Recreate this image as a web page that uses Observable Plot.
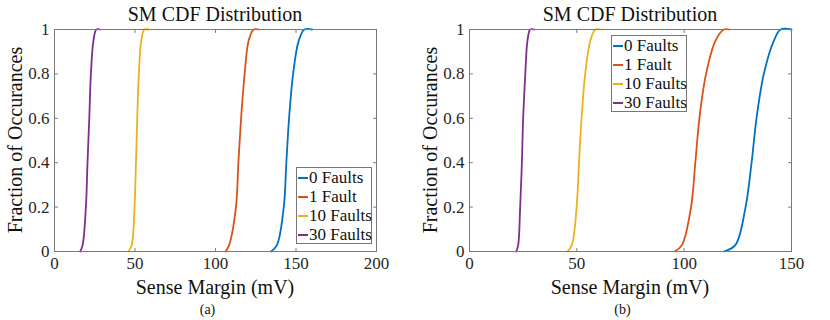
<!DOCTYPE html>
<html><head><meta charset="utf-8">
<script src="https://cdn.jsdelivr.net/npm/d3@7"></script>
<script src="https://cdn.jsdelivr.net/npm/@observablehq/plot@0.6"></script>
<style>
body{margin:0;background:#fff;}
#wrap{position:relative;width:830px;height:320px;background:#fff;font-family:'Liberation Serif';color:#111;}
.panel{position:absolute;top:0;width:415px;height:320px;}
.panel svg{position:absolute;left:0;top:0;overflow:visible;}
.title{position:absolute;top:2px;left:54px;width:322px;text-align:center;font-size:20px;line-height:24px;white-space:nowrap;font-family:'Liberation Serif';}
.ylab{position:absolute;left:15px;top:140px;transform:translate(-50%,-50%) rotate(-90deg);font-size:20px;white-space:nowrap;line-height:22px;font-family:'Liberation Serif';}
.xlab{position:absolute;left:54px;width:322px;top:275px;text-align:center;font-size:20px;line-height:24px;white-space:nowrap;font-family:'Liberation Serif';}
.cap{position:absolute;left:0;width:415px;top:301px;text-align:center;font-size:14px;line-height:18px;font-family:'Liberation Serif';}
.legend{position:absolute;border:1px solid #777;background:#fff;padding:0 2px 0 1px;box-sizing:border-box;}
.legend .row{display:flex;align-items:center;height:19px;font-size:17px;white-space:nowrap;font-family:'Liberation Serif';}
.legend .sw{width:10px;height:2px;margin-right:1px;flex:none;}
</style></head>
<body><div id="wrap"></div>
<script>
// ---- data ----
const seriesNames = ["0 Faults", "1 Fault", "10 Faults", "30 Faults"];
const seriesColors = ["#0072BD", "#D95319", "#EDB120", "#7E2F8E"];
const fractions = [0, 0.03, 0.2, 0.4, 0.6, 0.8, 0.95, 1, 1];

// Panel (a): sense margin (mV) at each fraction level
const a_0faults  = [134.5, 138.2, 142.4, 144.0, 145.7, 148.2, 151.7, 155.2, 160.0];
const a_1fault   = [106.3, 108.5, 112.7, 114.2, 115.9, 118.1, 120.6, 123.7, 126.8];
const a_10faults = [46.0, 48.0, 49.7, 50.6, 51.4, 52.4, 53.9, 55.8, 58.4];
const a_30faults = [16.0, 17.5, 19.5, 20.5, 21.6, 22.6, 24.2, 26.0, 28.4];

// Panel (b)
const b_0faults  = [118.5, 123.9, 128.6, 131.4, 133.7, 137.1, 141.8, 144.9, 150.0];
const b_1fault   = [95.6, 99.0, 103.2, 105.2, 107.1, 110.2, 114.6, 118.5, 121.1];
const b_10faults = [45.7, 47.7, 49.9, 51.0, 52.2, 53.9, 56.3, 58.6, 60.9];
const b_30faults = [21.8, 22.7, 23.6, 24.4, 25.0, 26.0, 27.0, 28.3, 30.3];

const xTicksA = [0, 50, 100, 150, 200];
const xTicksB = [0, 50, 100, 150];
const yTicks = [0, 0.2, 0.4, 0.6, 0.8, 1];

const titleText = "SM CDF Distribution";
const xLabelText = "Sense Margin (mV)";
const yLabelText = "Fraction of Occurances";

const panels = [
  {cap: "(a)", xmax: 200, xticks: xTicksA, series: [a_0faults, a_1fault, a_10faults, a_30faults], legend: {left: 296, top: 167}},
  {cap: "(b)", xmax: 150, xticks: xTicksB, series: [b_0faults, b_1fault, b_10faults, b_30faults], legend: {left: 196, top: 35}}
];

const tickShape = {draw(ctx, l) { ctx.moveTo(0, 0); ctx.lineTo(0, -l); }};
const axisColor = "#7a7a7a";
const fontFam = "'Liberation Serif'";
const wrap = document.getElementById("wrap");

panels.forEach((p, i) => {
  const rows = [];
  p.series.forEach((vals, s) => {
    vals.forEach((v, k) => rows.push({series: seriesNames[s], x: v, y: fractions[k]}));
  });
  const tickV = {length: 3, shape: tickShape, anchor: "start", stroke: axisColor, strokeWidth: 1};
  const plot = Plot.plot({
    width: 415, height: 280,
    marginTop: 29, marginBottom: 29, marginLeft: 54, marginRight: 39,
    style: {fontFamily: fontFam, fontSize: "17px", color: "#262626", background: "transparent"},
    x: {domain: [0, p.xmax], ticks: p.xticks},
    y: {domain: [0, 1], ticks: yTicks, tickFormat: d => String(+d.toFixed(1))},
    color: {domain: seriesNames, range: seriesColors},
    marks: [
      Plot.line(rows, {x: "x", y: "y", z: "series", stroke: "series", strokeWidth: 1.8, curve: "catmull-rom"}),
      Plot.frame({stroke: axisColor, strokeWidth: 1}),
      Plot.vector(p.xticks, {x: d => d, frameAnchor: "bottom", rotate: 0, ...tickV}),
      Plot.vector(p.xticks, {x: d => d, frameAnchor: "top", rotate: 180, ...tickV}),
      Plot.vector(yTicks, {y: d => d, frameAnchor: "left", rotate: 90, ...tickV}),
      Plot.vector(yTicks, {y: d => d, frameAnchor: "right", rotate: 270, ...tickV}),
      Plot.axisX({ticks: p.xticks, tickSize: 0, tickPadding: 5, label: null, fill: "#262626", fontFamily: fontFam, fontSize: 17}),
      Plot.axisY({ticks: yTicks, tickSize: 0, tickPadding: 5, label: null, fill: "#262626", fontFamily: fontFam, fontSize: 17, tickFormat: d => String(+d.toFixed(1))})
    ]
  });
  const panel = document.createElement("div");
  panel.className = "panel";
  panel.style.left = (i * 415) + "px";
  panel.appendChild(plot);
  const add = (cls, txt) => { const d = document.createElement("div"); d.className = cls; d.textContent = txt; panel.appendChild(d); return d; };
  add("title", titleText);
  add("ylab", yLabelText);
  add("xlab", xLabelText);
  add("cap", p.cap);
  const lg = document.createElement("div");
  lg.className = "legend";
  lg.style.left = p.legend.left + "px";
  lg.style.top = p.legend.top + "px";
  lg.style.width = "76px";
  lg.style.height = "77px";
  seriesNames.forEach((n, s) => {
    const r = document.createElement("div"); r.className = "row";
    const sw = document.createElement("span"); sw.className = "sw"; sw.style.background = seriesColors[s];
    const t = document.createElement("span"); t.textContent = n;
    r.appendChild(sw); r.appendChild(t); lg.appendChild(r);
  });
  panel.appendChild(lg);
  wrap.appendChild(panel);
});
</script></body></html>
